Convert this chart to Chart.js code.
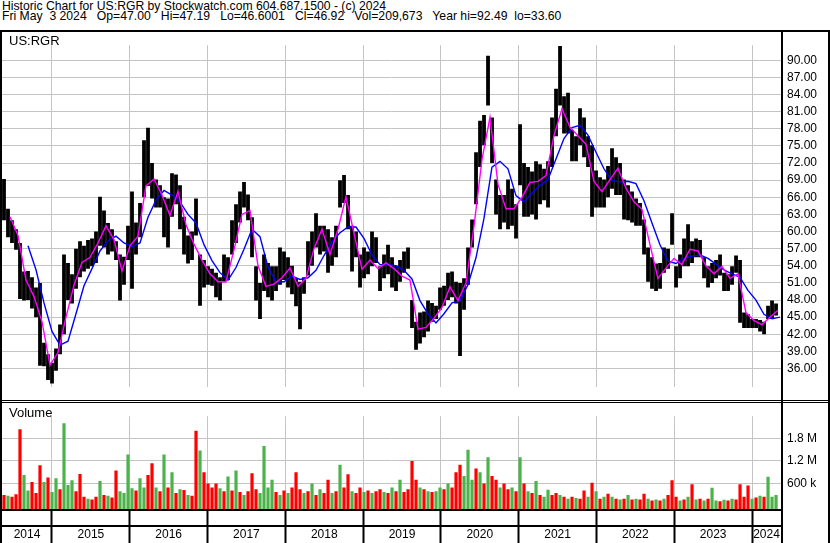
<!DOCTYPE html>
<html><head><meta charset="utf-8">
<script src="https://cdn.jsdelivr.net/npm/chart.js@4.4.1/dist/chart.umd.min.js"></script>
<style>
body{margin:0;background:#fff;width:830px;height:543px;overflow:hidden;position:relative;font-family:"Liberation Sans",Arial,sans-serif;color:#000}
.t{position:absolute;left:2px;font-size:12.2px;white-space:pre;line-height:12px}
.ln{position:absolute;background:#000}
canvas{position:absolute;left:0}
.lbl{position:absolute;font-size:13px;line-height:13px}
</style></head><body>
<div class="t" style="top:0px">Historic Chart for US:RGR by Stockwatch.com 604.687.1500 - (c) 2024</div>
<div class="t" style="top:10px">Fri May  3 2024   Op=47.00   Hi=47.19   Lo=46.6001   Cl=46.92   Vol=209,673   Year hi=92.49  lo=33.60</div>
<canvas id="pc" width="830" height="368" style="top:32px;width:830px;height:368px"></canvas>
<canvas id="vc" width="830" height="140" style="top:403px;width:830px;height:140px"></canvas>
<div class="lbl" style="left:9px;top:34px">US:RGR</div>
<div class="lbl" style="left:9px;top:406px">Volume</div>
<div class="ln" style="left:0;top:30px;width:830px;height:2px"></div>
<div class="ln" style="left:0;top:30px;width:2px;height:513px"></div>
<div class="ln" style="left:781px;top:30px;width:2px;height:513px"></div>
<div class="ln" style="left:828px;top:30px;width:2px;height:513px"></div>
<div class="ln" style="left:0;top:400px;width:830px;height:1px"></div>
<div class="ln" style="left:0;top:402px;width:830px;height:1px"></div>
<div class="ln" style="left:0;top:509px;width:783px;height:2px"></div>
<div class="ln" style="left:0;top:525px;width:783px;height:2px"></div>
<script>
// ---- data (approx. 2-week high/low ranges) ----
const lows=[62.0,59.0,58.0,56.8,48.2,47.9,48.0,46.5,45.0,36.5,
36.4,34.0,33.4,35.6,38.5,42.0,48.0,47.4,50.0,52.0,
53.0,53.5,53.9,54.5,57.5,57.2,56.0,56.5,55.0,47.9,
50.7,55.0,50.0,56.0,59.0,66.0,68.0,65.8,64.2,64.2,
59.0,57.2,62.6,64.8,60.4,56.0,54.4,55.0,59.3,47.0,
50.2,50.7,50.5,48.5,47.9,51.1,51.5,56.0,58.0,61.6,
64.2,62.0,55.5,47.9,44.7,49.6,48.5,47.9,49.6,50.7,
51.5,50.2,49.0,46.9,42.9,49.1,52.3,54.0,57.2,56.0,
56.5,52.8,54.0,55.5,64.2,65.0,60.4,53.0,55.5,50.2,
51.8,52.5,53.9,54.5,49.6,51.8,52.5,50.2,49.6,51.2,
52.8,53.5,43.1,39.3,40.4,41.5,42.5,44.2,44.7,46.3,
47.0,48.0,48.5,47.4,38.2,46.3,50.7,57.2,64.8,71.3,
75.1,82.1,72.0,63.0,60.4,61.6,60.4,61.0,58.8,68.1,
62.6,62.6,63.0,62.1,64.8,65.5,64.2,71.3,76.7,82.1,
77.2,77.2,72.3,72.3,75.1,73.0,71.3,62.6,64.2,64.2,
64.2,66.0,67.5,66.4,66.4,62.1,62.0,61.6,61.0,61.0,
56.0,51.2,50.0,49.6,50.0,52.8,53.5,57.7,50.2,51.8,
53.9,53.9,54.5,55.5,55.5,51.8,50.2,51.0,51.8,52.3,
49.6,49.6,50.7,52.8,44.0,43.1,43.1,43.1,43.1,42.5,
42.0,44.7,44.7,45.3];
const highs=[69.2,64.0,62.0,60.4,58.0,53.0,53.1,52.0,50.2,51.0,
40.5,38.5,37.0,39.5,43.7,56.0,54.5,52.5,57.0,58.3,
57.5,58.5,58.8,60.0,66.1,63.7,61.5,60.4,58.3,56.0,
55.6,61.0,67.0,61.6,65.0,76.0,78.2,72.0,69.1,68.1,
66.0,65.8,70.2,70.0,68.1,62.6,59.3,60.0,65.8,56.0,
55.0,53.9,53.5,52.8,52.0,56.0,55.5,62.0,64.8,67.0,
68.7,66.5,62.5,53.9,51.0,56.0,54.5,53.9,53.9,57.2,
56.5,55.5,54.0,51.8,51.2,52.0,58.3,60.0,63.2,61.0,
61.0,60.4,59.0,61.0,69.0,69.9,66.4,61.0,60.0,56.0,
57.2,56.5,60.0,59.0,53.9,56.0,57.7,55.5,54.0,55.0,
56.5,57.2,48.0,44.2,45.8,46.0,47.9,47.5,47.0,50.2,
50.5,52.8,53.0,51.2,51.0,51.8,57.2,62.1,73.9,79.4,
80.4,90.8,80.0,69.1,66.4,66.4,69.1,67.5,64.8,78.8,
72.0,71.3,70.5,72.3,71.8,71.0,72.3,80.0,85.0,92.5,
83.7,84.3,77.8,76.7,81.6,80.0,76.7,75.1,70.7,69.5,
69.1,71.5,74.6,73.0,72.0,69.1,68.1,67.0,65.8,65.0,
62.1,57.2,55.5,54.4,54.5,57.2,57.0,63.2,53.9,56.0,
58.8,61.3,58.3,58.8,58.5,55.5,53.9,54.5,55.0,56.0,
52.8,52.5,53.9,55.8,55.0,45.8,45.5,44.7,44.7,44.5,
44.2,47.0,47.9,47.4];
// volume in thousands of shares, and direction (u = up / green, d = down / red)
const volumes=[300,280,250,320,2040,830,420,645,350,1090,
640,760,380,740,450,2200,560,690,400,855,
250,200,180,250,670,300,280,230,950,400,
350,1370,480,420,740,500,830,1140,500,400,
1370,500,900,350,450,430,300,280,2000,1480,
900,600,500,600,480,400,790,420,950,380,
300,400,875,450,350,1600,500,700,380,300,
420,350,500,900,450,350,400,600,300,450,
350,700,350,400,1100,500,850,400,350,500,
380,420,350,400,450,380,350,500,400,700,
380,450,1200,700,500,450,400,380,400,500,
450,600,500,900,1100,800,1500,700,1000,900,
600,1300,800,700,500,600,450,500,400,1300,
600,400,350,670,300,250,440,300,350,300,
250,200,250,220,200,420,250,625,400,200,
250,330,250,200,180,200,300,180,200,180,
330,200,150,180,150,200,300,690,250,150,
180,250,580,180,200,150,200,490,150,130,
170,150,200,180,580,250,550,200,230,280,
250,785,250,300];
const volDir=['d','u','d','d','d','u','u','d','d','d',
'u','d','u','u','d','u','u','u','d','d',
'd','u','d','d','u','d','u','d','d','u',
'u','u','u','d','u','u','d','d','u','d',
'u','d','u','d','u','d','u','d','d','u',
'd','d','d','d','u','d','u','d','u','d',
'u','d','d','d','u','u','u','u','d','u',
'd','u','d','d','d','u','d','u','d','u',
'd','d','u','d','u','d','d','u','d','d',
'u','d','u','d','d','u','d','u','d','u',
'd','d','d','d','u','d','u','d','u','u',
'd','u','d','d','d','u','u','u','d','u',
'd','u','d','d','u','d','d','u','d','u',
'd','u','d','u','d','u','u','d','d','u',
'd','u','d','u','d','d','u','d','u','d',
'u','d','u','d','u','d','u','d','u','d',
'd','u','d','u','d','u','d','d','d','u',
'd','u','d','u','d','u','d','u','u','d',
'u','d','u','d','d','d','d','u','d','u',
'd','u','u','u'];
// moving averages (magenta = short, blue = long)
const ma1=[62.6,59.3,51.5,48.6,44.2,36.6,38.8,45.0,50.6,54.6,
55.5,58.0,61.0,58.6,53.1,57.5,59.2,68.0,69.2,66.4,
62.8,67.0,61.2,57.8,55.0,52.6,51.2,51.2,56.8,63.0,
63.7,54.0,50.4,50.8,51.9,53.6,50.4,51.8,57.0,60.4,
56.0,60.4,66.1,59.7,53.4,55.0,53.5,54.5,53.5,52.2,
51.5,42.9,43.2,44.8,46.7,50.3,47.9,51.0,60.9,72.6,
80.0,68.3,64.0,64.0,66.0,68.6,68.8,69.8,76.8,81.5,
78.3,76.8,75.3,68.8,67.0,69.1,71.1,67.6,65.2,63.9,
57.7,51.8,53.6,55.3,54.2,56.9,56.6,54.0,52.6,53.9,
51.8,52.6,45.8,44.4,43.7,45.0,46.2];
const ma2=[57.5,53.3,47.5,42.5,40.1,40.8,45.6,50.5,53.5,56.6,
58.4,59.2,58.0,57.4,58.0,62.5,65.5,67.2,66.4,65.2,
63.0,61.5,57.7,54.9,52.8,51.5,53.7,56.9,60.4,59.1,
53.8,51.2,51.2,52.2,51.6,51.9,53.2,55.8,58.2,59.8,
60.8,60.8,58.8,55.9,54.2,54.2,54.0,53.2,51.7,47.9,
45.6,44.0,45.6,47.5,47.9,50.7,55.4,62.3,71.3,72.3,
71.0,66.3,65.2,66.7,68.1,69.1,72.7,76.3,78.2,78.6,
76.9,73.9,71.0,68.9,68.7,68.8,68.4,65.4,61.5,57.7,
54.8,54.4,55.3,55.7,55.9,55.3,54.3,53.3,52.6,52.0,
49.7,48.0,45.5,44.7,45.0];
const priceTicks=[36,39,42,45,48,51,54,57,60,63,66,69,72,75,78,81,84,87,90];
const volumeTicks=[600000,1200000,1800000];
const volumeTickLabels=['600 k','1.2 M','1.8 M'];
const yearLabels=['2014','2015','2016','2017','2018','2019','2020','2021','2022','2023','2024'];
const barStart=2014.3829, barStep=0.05143;
const ma1Start=2014.4600, ma2Start=2014.6914, maStep=0.10285;
const X_MIN=2014.3572, X_MAX=2024.3726;

// ---- build ----
const priceBars=lows.map((lo,i)=>({x:barStart+i*barStep,y:[lo,highs[i]]}));
const ma1Pts=ma1.map((v,i)=>({x:ma1Start+i*maStep,y:v}));
const ma2Pts=ma2.map((v,i)=>({x:ma2Start+i*maStep,y:v}));
const volBars=volumes.map((v,i)=>({x:barStart+i*barStep,y:v*1000}));
const volColors=volumes.map((v,i)=>volDir[i]==='u'?'#4cb24c':'#ff0000');
const yearBounds=yearLabels.slice(1).map(Number);
const GRID='#c4c4c4';
const FONT={family:'"Liberation Sans", Arial, sans-serif',size:12};

function rightAxisFit(s){s.width=49;}

new Chart(document.getElementById('pc'),{
  type:'bar',
  data:{datasets:[
    {type:'line',data:ma1Pts,borderColor:'#ff00ff',borderWidth:1.4,pointRadius:0,tension:0,order:1},
    {type:'line',data:ma2Pts,borderColor:'#0000ff',borderWidth:1.4,pointRadius:0,tension:0,order:2},
    {type:'bar',data:priceBars,backgroundColor:'#000',barPercentage:0.95,categoryPercentage:1,order:3}
  ]},
  options:{
    responsive:false,animation:false,events:[],
    layout:{padding:{left:2,right:0,top:0,bottom:0}},
    plugins:{legend:{display:false},tooltip:{enabled:false}},
    scales:{
      x:{type:'linear',min:X_MIN,max:X_MAX,offset:false,
        grid:{color:GRID,lineWidth:1,drawTicks:false,offset:false},border:{display:false},
        ticks:{display:false},
        afterBuildTicks:s=>{s.ticks=yearBounds.map(v=>({value:v}));},
        afterFit:s=>{s.height=0;}},
      y:{position:'right',min:32.8,max:92.65,
        grid:{color:GRID,lineWidth:1,drawTicks:false},border:{display:false},
        ticks:{color:'#000',font:FONT,padding:6,callback:v=>Number(v).toFixed(2)},
        afterBuildTicks:s=>{s.ticks=priceTicks.map(v=>({value:v}));},
        afterFit:rightAxisFit}
    }
  }
});

new Chart(document.getElementById('vc'),{
  type:'bar',
  data:{datasets:[
    {data:volBars,backgroundColor:volColors,barPercentage:0.8,categoryPercentage:1,base:-73000}
  ]},
  options:{
    responsive:false,animation:false,events:[],
    layout:{padding:{left:2,right:0,top:0,bottom:0}},
    plugins:{legend:{display:false},tooltip:{enabled:false}},
    scales:{
      x:{type:'linear',min:X_MIN,max:X_MAX,offset:false,
        grid:{offset:false,lineWidth:1,tickLength:34,tickWidth:2,
          color:c=>(c.tick&&c.tick.yl)?'rgba(0,0,0,0)':GRID,
          tickColor:c=>(c.tick&&c.tick.yl)?'rgba(0,0,0,0)':'#000'},
        border:{display:false},
        ticks:{color:'#000',font:FONT,padding:-16,maxRotation:0,autoSkip:false,
          callback:(v,i,t)=>t[i]&&t[i].yl?t[i].yl:''},
        afterBuildTicks:s=>{
          const t=yearBounds.map(v=>({value:v}));
          yearLabels.forEach(l=>{const y=Number(l);const a=Math.max(y,X_MIN),b=Math.min(y+1,X_MAX);t.push({value:(a+b)/2,yl:l});});
          t.sort((p,q)=>p.value-q.value);s.ticks=t;},
        afterFit:s=>{s.height=34;}},
      y:{position:'right',min:-73000,max:2387000,
        grid:{color:GRID,lineWidth:1,drawTicks:false},border:{display:false},
        ticks:{color:'#000',font:FONT,padding:6,
          callback:v=>{const i=volumeTicks.indexOf(v);return i>=0?volumeTickLabels[i]:'';}},
        afterBuildTicks:s=>{s.ticks=volumeTicks.map(v=>({value:v}));},
        afterFit:rightAxisFit}
    }
  }
});
</script>
</body></html>
